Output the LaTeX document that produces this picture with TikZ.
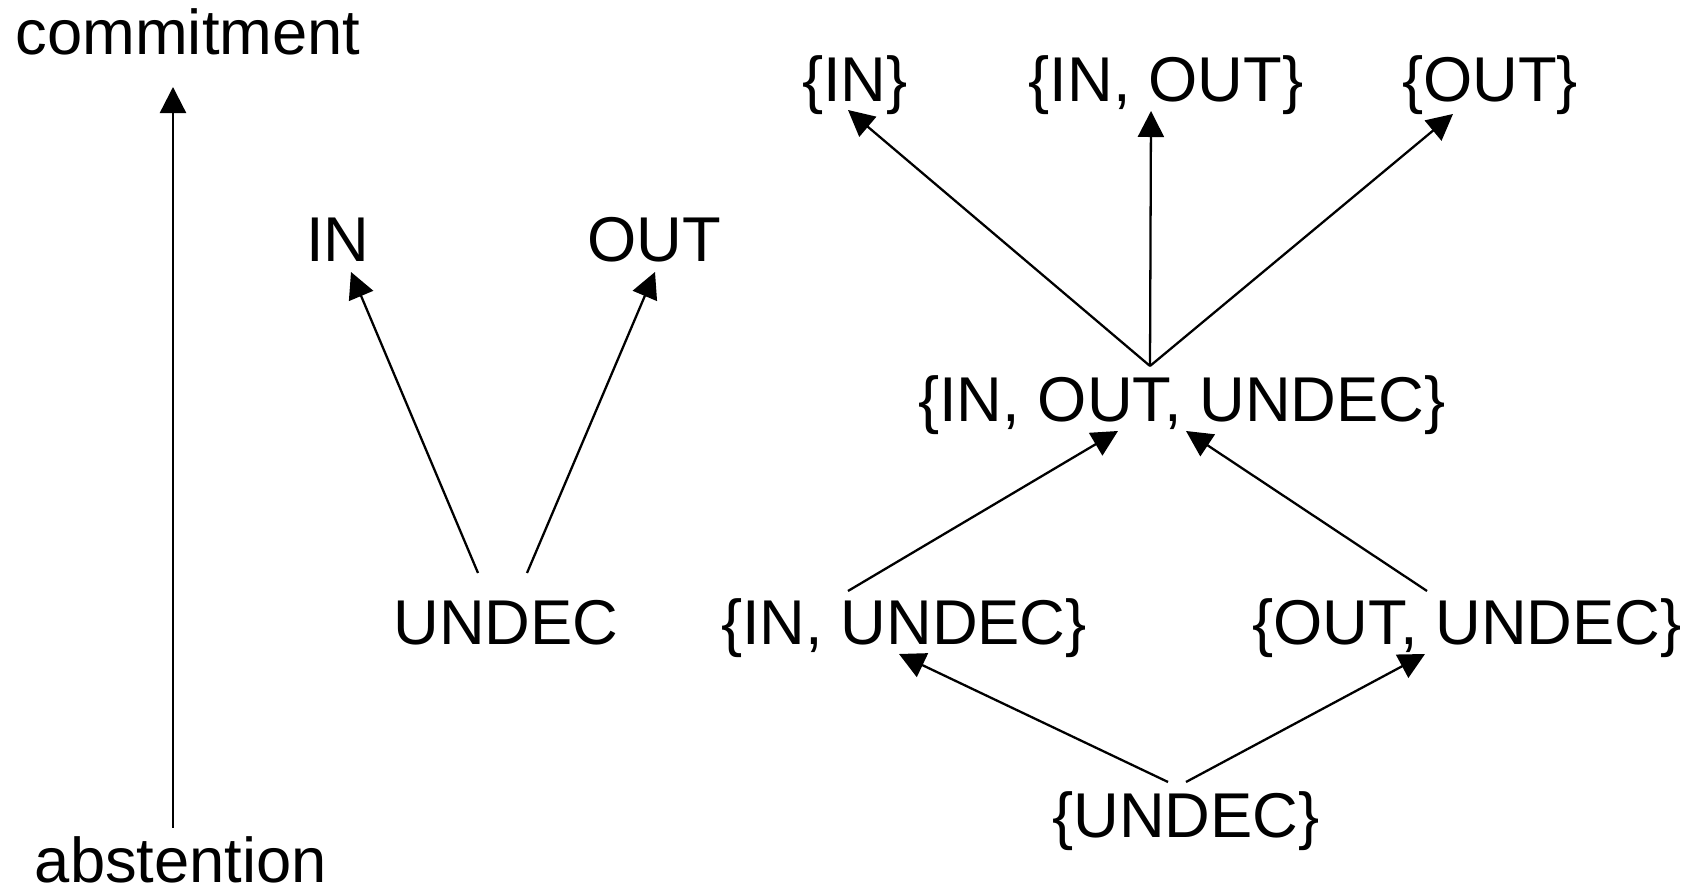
\documentclass[tikz,border=0pt]{standalone}
\usepackage{fontspec}
\setmainfont{Liberation Sans}
\usetikzlibrary{arrows.meta}

\tikzset{
	lbl/.style = {anchor = base, inner sep = 0pt, font = \fontsize{18}{22}\selectfont},
	arr/.style = {line width = 0.65pt, -{Triangle[length = 7.4pt, width = 7.4pt]}}
}

\begin{document}
\begin{tikzpicture}[x = 0.01cm, y = -0.01cm]
		\useasboundingbox (0,0) rectangle (1697,892);
		% axis
		\node[lbl] (commit) at (188,55) {commitment};
		\node[lbl] (abst) at (181,883) {abstention};
		\draw[arr] ([shift = {(-8,-55)}]abst.base) -- ([shift = {(-15,32)}]commit.base);
		% single labels
		\node[lbl] (in) at (338,262) {IN};
		\node[lbl] (out) at (654,262) {OUT};
		\node[lbl] (undec) at (506,645) {UNDEC};
		\draw[arr] ([shift = {(-28,-72)}]undec.base) -- ([shift = {(13,10)}]in.base);
		\draw[arr] ([shift = {(21,-72)}]undec.base) -- ([shift = {(1,10)}]out.base);
		% sets of labels
		\node[lbl] (sin) at (855,102) {\{IN\}};
		\node[lbl] (sinout) at (1166,102) {\{IN, OUT\}};
		\node[lbl] (sout) at (1490,102) {\{OUT\}};
		\node[lbl] (sall) at (1182,422) {\{IN, OUT, UNDEC\}};
		\node[lbl] (sinun) at (904,645) {\{IN, UNDEC\}};
		\node[lbl] (soutun) at (1467,645) {\{OUT, UNDEC\}};
		\node[lbl] (sun) at (1186,838) {\{UNDEC\}};
		\coordinate (fan) at ([shift = {(-32,-56)}]sall.base);
		\draw[arr] (fan) -- ([shift = {(-7,8)}]sin.base);
		\draw[arr] (fan) -- ([shift = {(-15,9)}]sinout.base);
		\draw[arr] (fan) -- ([shift = {(-37,12)}]sout.base);
		\draw[arr] ([shift = {(-56,-54)}]sinun.base) -- ([shift = {(-64,9)}]sall.base);
		\draw[arr] ([shift = {(-40,-54)}]soutun.base) -- ([shift = {(4,9)}]sall.base);
		\draw[arr] ([shift = {(-18,-56)}]sun.base) -- ([shift = {(-5,9)}]sinun.base);
		\draw[arr] ([shift = {(0,-56)}]sun.base) -- ([shift = {(-42,9)}]soutun.base);
	\end{tikzpicture}
\end{document}
